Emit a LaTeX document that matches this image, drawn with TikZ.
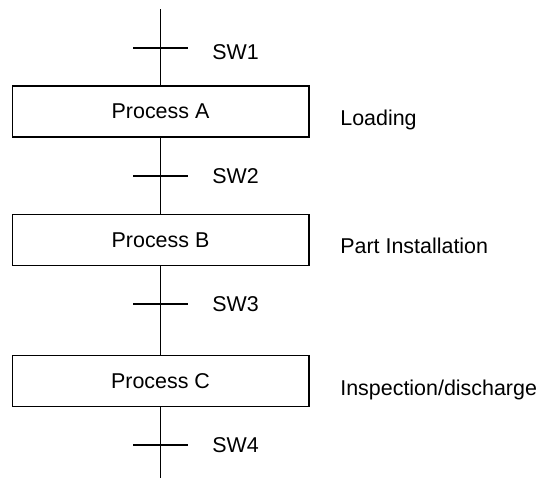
\documentclass[tikz,border=0pt]{standalone}
\usepackage{fontspec}
\setmainfont{Liberation Sans}
\usetikzlibrary{positioning}
\definecolor{ink}{HTML}{000000}
\newcommand{\lbl}{\fontsize{12.2}{14}\selectfont}
\tikzset{
  procbox/.style  ={draw=ink, line width=0.6pt, minimum width=5.94cm,
                    minimum height=1.02cm, inner sep=0pt, font=\lbl},
  flow/.style     ={draw=ink, line width=0.6pt},
  trans/.style    ={draw=ink, line width=0.6pt},
  swlabel/.style  ={anchor=west, font=\lbl, inner sep=0pt},
  steplabel/.style={anchor=base west, font=\lbl, inner sep=0pt}
}

\begin{document}
\begin{tikzpicture}[x=0.02cm, y=-0.02cm]
  \useasboundingbox (0,0) rectangle (537,478);

  \coordinate (top) at (160.5,9);
  \coordinate (bot) at (160.5,478);

  \node[procbox] (procA) at (160.5,111.5) {Process A};
  \node[procbox] (procB) at (160.5,240)   {Process B};
  \node[procbox] (procC) at (160.5,381)   {Process C};

  % transitions
  \foreach \name/\y/\ly/\lab in {sw1/48/52/SW1, sw2/176/176/SW2,
                                 sw3/304/304/SW3, sw4/445/445/SW4} {
    \coordinate (\name) at (160.5,\y);
    \draw[trans] ([xshift=-0.55cm]\name) -- ([xshift=0.55cm]\name);
    \node[swlabel] (\name lbl) at (212,\ly) {\lab};
  }

  \draw[flow] (top)         -- (procA.north);
  \draw[flow] (procA.south) -- (procB.north);
  \draw[flow] (procB.south) -- (procC.north);
  \draw[flow] (procC.south) -- (bot);

  \node[steplabel] (loadlbl)    at (340,125.7) {Loading};
  \node[steplabel] (installlbl) at (340,253)   {Part Installation};
  \node[steplabel] (inspectlbl) at (340,395)   {Inspection/discharge};
\end{tikzpicture}
\end{document}
